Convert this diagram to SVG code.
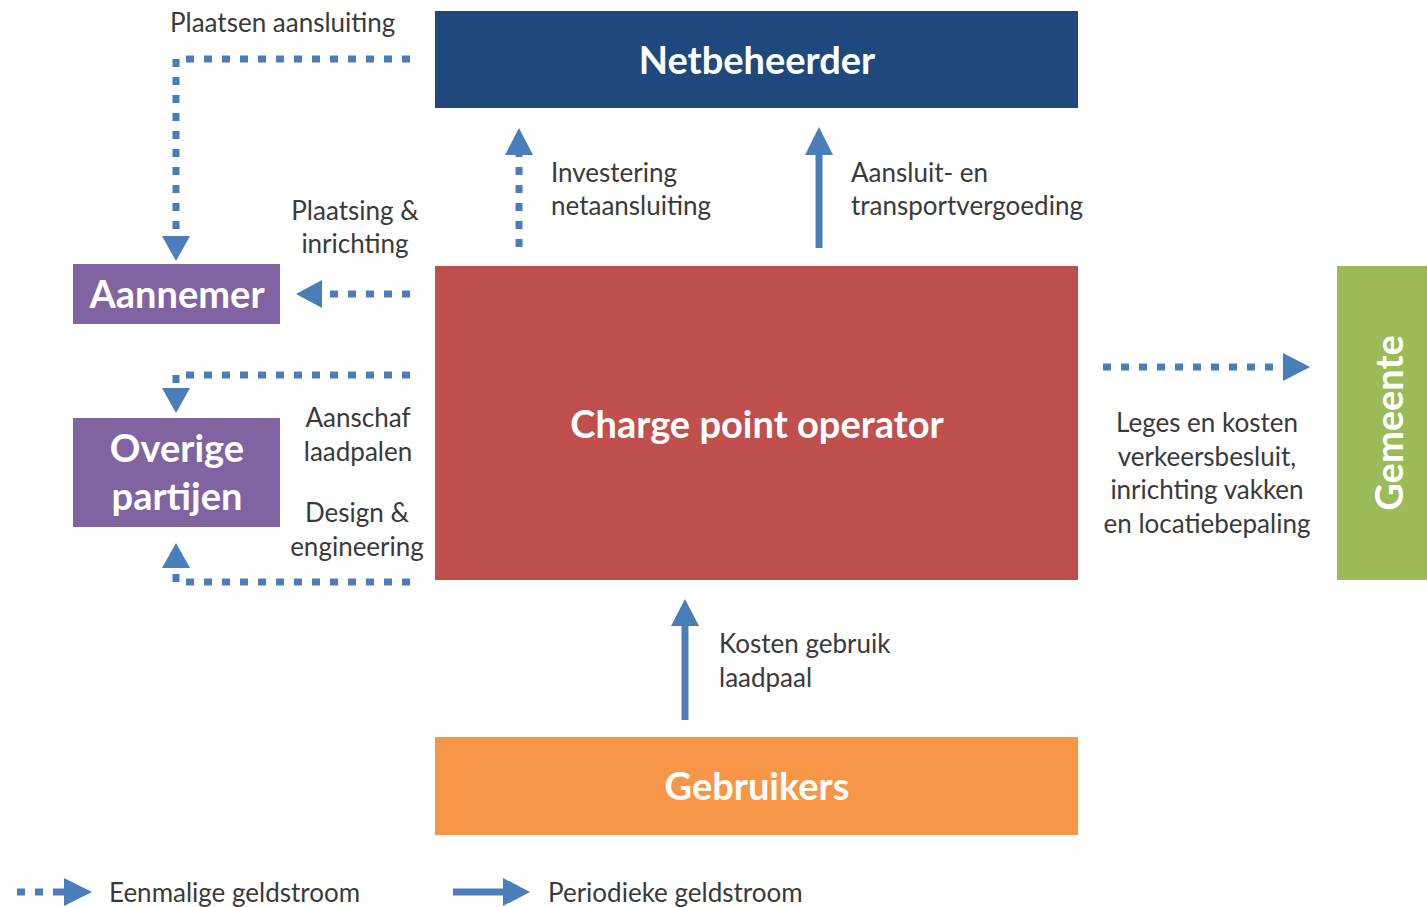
<svg xmlns="http://www.w3.org/2000/svg" width="1427" height="907" viewBox="0 0 1427 907">
<style>
.box text{font-family:Lato,"Open Sans",sans-serif;font-weight:bold;fill:#fff;text-anchor:middle}
.lbl{font-family:Lato,"Open Sans",sans-serif;font-size:26px;fill:#3a3a3a}
.mid{text-anchor:middle}
.dot{fill:none;stroke:#4a7ebb;stroke-width:7;stroke-dasharray:8 10}
.sol{fill:none;stroke:#4a7ebb;stroke-width:7}
.head{fill:#4a7ebb}
</style>
<rect width="1427" height="907" fill="#fff"/>
<g id="netbeheerder" class="box"><rect x="435" y="11" width="643" height="97" fill="#1f497d"/><text x="757" y="74" font-size="38">Netbeheerder</text></g>
<g id="cpo" class="box"><rect x="435" y="266" width="643" height="314" fill="#c0504d"/><text x="757" y="438" font-size="38">Charge point operator</text></g>
<g id="gebruikers" class="box"><rect x="435" y="737" width="643" height="98" fill="#f79646"/><text x="757" y="800" font-size="38">Gebruikers</text></g>
<g id="aannemer" class="box"><rect x="73" y="264" width="207" height="60" fill="#8064a2"/><text x="177" y="308" font-size="38">Aannemer</text></g>
<g id="overige" class="box"><rect x="73" y="418" width="207" height="109" fill="#8064a2"/><text x="177" y="462" font-size="38">Overige</text><text x="177" y="510" font-size="38">partijen</text></g>
<g id="gemeente" class="box"><rect x="1337" y="266" width="90" height="314" fill="#9bbb59"/><text x="0" y="0" font-size="38" transform="translate(1403 423) rotate(-90)">Gemeente</text></g>
<g id="connectors">
<path class="dot" d="M410 59H176V236"/><polygon class="head" points="162,236 190,236 176,261"/>
<path class="dot" d="M410 294H322"/><polygon class="head" points="322,280 322,308 296,294"/>
<path class="dot" d="M410 375H176V388"/><polygon class="head" points="162,388 190,388 176,413"/>
<path class="dot" d="M410 582H176V568"/><polygon class="head" points="162,568 190,568 176,543"/>
<path class="dot" d="M519 247V155"/><polygon class="head" points="505,155 533,155 519,128"/>
<path class="sol" d="M819 248V152"/><polygon class="head" points="805,155 833,155 819,127"/>
<path class="sol" d="M685 720V622"/><polygon class="head" points="671,626 699,626 685,599"/>
<path class="dot" d="M1103 367H1285"/><polygon class="head" points="1283,353 1283,381 1310,367"/>
<path class="dot" d="M17 892H55"/><polygon class="head" points="64,878 64,906 92,892"/><rect x="55" y="888.5" width="10" height="7" class="head"/>
<path class="sol" d="M453 892H505"/><polygon class="head" points="503,878 503,906 530,892"/>
</g>
<g id="labels">
<text class="lbl" x="170" y="32">Plaatsen aansluiting</text>
<text class="lbl mid" x="355" y="220">Plaatsing &amp;</text>
<text class="lbl mid" x="355" y="253">inrichting</text>
<text class="lbl" x="551" y="182">Investering</text>
<text class="lbl" x="551" y="215">netaansluiting</text>
<text class="lbl" x="851" y="182">Aansluit- en</text>
<text class="lbl" x="851" y="215">transportvergoeding</text>
<text class="lbl mid" x="358" y="427">Aanschaf</text>
<text class="lbl mid" x="358" y="461">laadpalen</text>
<text class="lbl mid" x="357" y="522">Design &amp;</text>
<text class="lbl mid" x="357" y="556">engineering</text>
<text class="lbl mid" x="1207" y="432">Leges en kosten</text>
<text class="lbl mid" x="1207" y="466">verkeersbesluit,</text>
<text class="lbl mid" x="1207" y="499">inrichting vakken</text>
<text class="lbl mid" x="1207" y="533">en locatiebepaling</text>
<text class="lbl" x="719" y="653">Kosten gebruik</text>
<text class="lbl" x="719" y="687">laadpaal</text>
<text class="lbl" x="109" y="902">Eenmalige geldstroom</text>
<text class="lbl" x="548" y="902">Periodieke geldstroom</text>
</g>
</svg>
